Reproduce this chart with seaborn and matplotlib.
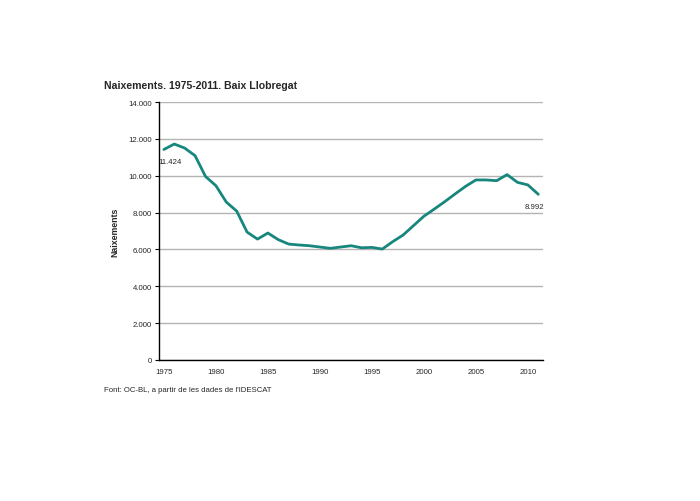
import numpy as np
import pandas as pd
import matplotlib
matplotlib.use('Agg')
import matplotlib.pyplot as plt
import seaborn as sns

# Naixements al Baix Llobregat, 1975-2011
years = list(range(1975, 2012))
births = [11424, 11720, 11500, 11085, 9960, 9460, 8570, 8080, 6940, 6560,
          6890, 6530, 6290, 6240, 6200, 6130, 6060, 6130, 6200, 6090,
          6110, 6020, 6420, 6780, 7290, 7800, 8190, 8590, 9010, 9420,
          9770, 9770, 9730, 10060, 9640, 9500, 8992]
yticks = [0, 2000, 4000, 6000, 8000, 10000, 12000, 14000]
xlabels = [1975, 1980, 1985, 1990, 1995, 2000, 2005, 2010]

df = pd.DataFrame({'Any': years, 'Naixements': births})

sns.set_style('white')
plt.rcParams['font.family'] = ['Liberation Sans', 'DejaVu Sans']

fig = plt.figure(figsize=(7, 5.02), dpi=100)
ax = fig.add_axes([0.2267, 0.2809, 0.5497, 0.5139])

sns.lineplot(data=df, x='Any', y='Naixements', color='#17877e', linewidth=2.0, ax=ax)

ax.set_xlim(1974.5, 2011.5)
ax.set_ylim(0, 14000)
ax.set_yticks(yticks)
ax.set_yticklabels([f'{v:,}'.replace(',', '.') for v in yticks], fontsize=5.6)
ax.yaxis.grid(True, color='#b4b4b4', linewidth=1)
ax.xaxis.grid(False)
ax.set_axisbelow(True)

# ticks on year boundaries, labels at year centres
ax.set_xticks(np.arange(1974.5, 2012, 1.0))
ax.set_xticklabels([])
ax.set_xticks(xlabels, minor=True)
ax.set_xticklabels([str(y) for y in xlabels], minor=True, fontsize=5.6)
ax.tick_params(axis='x', which='major', length=3, width=0.8, color='black', direction='out')
ax.tick_params(axis='x', which='minor', length=0, pad=6)
ax.tick_params(axis='y', length=3, width=0.8, color='black', pad=2, left=True)

for s in ['top', 'right']:
    ax.spines[s].set_visible(False)
for s in ['left', 'bottom']:
    ax.spines[s].set_color('black')
    ax.spines[s].set_linewidth(1)

ax.set_xlabel('')
ax.set_ylabel('Naixements', fontsize=6.3, fontweight='bold', labelpad=6)

ax.annotate('11.424', (years[0], births[0]), xytext=(-4, -9), textcoords='offset points',
            fontsize=5.6, ha='left', va='center')
ax.annotate('8.992', (years[-1], births[-1]), xytext=(4, -9), textcoords='offset points',
            fontsize=5.6, ha='right', va='center')

fig.text(104 / 700, 1 - 86 / 502, 'Naixements. 1975-2011. Baix Llobregat',
         fontsize=7.6, fontweight='bold', ha='left', va='center',
         family=['Liberation Sans Narrow', 'Liberation Sans', 'DejaVu Sans'])
fig.text(104 / 700, 1 - 391 / 502, "Font: OC-BL, a partir de les dades de l'IDESCAT",
         fontsize=5.6, ha='left', va='center')

fig.savefig('out.png', dpi=100)
